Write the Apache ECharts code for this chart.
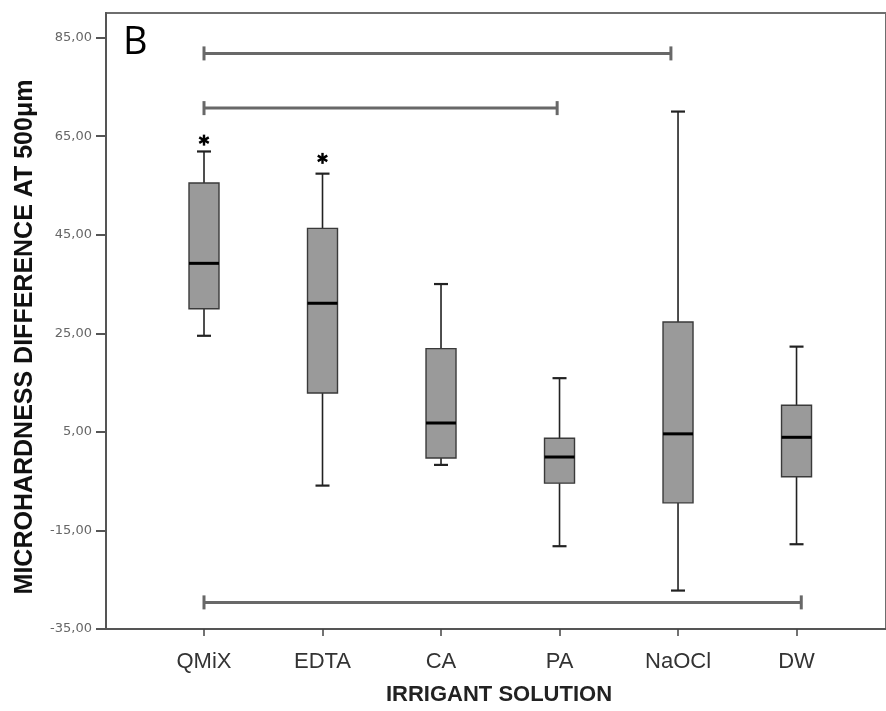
<!DOCTYPE html>
<html>
<head>
    <meta charset="utf-8">
    <title>Microhardness difference at 500um</title>
    <script src="https://cdn.jsdelivr.net/npm/echarts@6/dist/echarts.min.js"></script>
</head>
<body style="margin:0">
<div id="main" style="width:886px;height:711px;"></div>
<script type="text/javascript">
    // groups on the x axis
    var categories = ['QMiX', 'EDTA', 'CA', 'PA', 'NaOCl', 'DW'];
    // [lower whisker, Q1, median, Q3, upper whisker]
    var boxValues = [
        [24.5, 30.0, 39.2, 55.5, 61.9],
        [-5.9, 12.9, 31.1, 46.3, 57.4],
        [-1.7, -0.3, 6.8, 21.9, 35.0],
        [-18.2, -5.4, -0.1, 3.7, 15.9],
        [-27.2, -9.4, 4.6, 27.3, 70.0],
        [-17.8, -4.1, 3.9, 10.4, 22.3]
    ];
    // extreme values (star) and outliers (circle): [category index, value]
    var extremes = [[0, 64.2], [1, 60.5]];
    var outliers = [[3, 22.2]];
    // significance brackets: [from, to, value]
    var brackets = [
        [0, 3.94, 81.8],
        [0, 2.98, 70.7],
        [0, 5.04, -29.6]
    ];
    var yTicks = [-35, -15, 5, 25, 45, 65, 85];

    var myChart = echarts.init(document.getElementById('main'));

    function renderBox(params, api) {
        var x = api.value(0);
        var lo = api.coord([x, api.value(1)]);
        var q1 = api.coord([x, api.value(2)]);
        var med = api.coord([x, api.value(3)]);
        var q3 = api.coord([x, api.value(4)]);
        var hi = api.coord([x, api.value(5)]);
        var cx = lo[0], bw = 30, cw = 14;
        var wStyle = {stroke: '#222', lineWidth: 1.6};
        return {
            type: 'group',
            children: [
                {type: 'line', shape: {x1: cx, y1: hi[1], x2: cx, y2: q3[1]}, style: wStyle},
                {type: 'line', shape: {x1: cx, y1: q1[1], x2: cx, y2: lo[1]}, style: wStyle},
                {type: 'line', shape: {x1: cx - cw / 2, y1: hi[1], x2: cx + cw / 2, y2: hi[1]}, style: {stroke: '#222', lineWidth: 2.2}},
                {type: 'line', shape: {x1: cx - cw / 2, y1: lo[1], x2: cx + cw / 2, y2: lo[1]}, style: {stroke: '#222', lineWidth: 2.2}},
                {type: 'rect', shape: {x: cx - bw / 2, y: q3[1], width: bw, height: q1[1] - q3[1]},
                    style: {fill: '#9a9a9a', stroke: '#3a3a3a', lineWidth: 1.4}},
                {type: 'line', shape: {x1: cx - bw / 2, y1: med[1], x2: cx + bw / 2, y2: med[1]}, style: {stroke: '#000', lineWidth: 3}}
            ]
        };
    }

    function renderBracket(params, api) {
        var a = api.coord([api.value(0), api.value(2)]);
        var b = api.coord([api.value(1), api.value(2)]);
        var st = {stroke: '#686868', lineWidth: 3};
        return {
            type: 'group',
            children: [
                {type: 'line', shape: {x1: a[0], y1: a[1], x2: b[0], y2: b[1]}, style: st},
                {type: 'line', shape: {x1: a[0], y1: a[1] - 7, x2: a[0], y2: a[1] + 7}, style: st},
                {type: 'line', shape: {x1: b[0], y1: b[1] - 7, x2: b[0], y2: b[1] + 7}, style: st}
            ]
        };
    }

    function renderStar(params, api) {
        var p = api.coord([api.value(0), api.value(1)]);
        var r = 5.5, kids = [];
        for (var k = 0; k < 3; k++) {
            var ang = Math.PI / 2 + k * Math.PI / 3;
            kids.push({type: 'line', shape: {
                x1: p[0] - r * Math.cos(ang), y1: p[1] - r * Math.sin(ang),
                x2: p[0] + r * Math.cos(ang), y2: p[1] + r * Math.sin(ang)
            }, style: {stroke: '#000', lineWidth: 2.4}});
        }
        return {type: 'group', children: kids};
    }

    var boxData = boxValues.map(function (b, i) {
        return [i].concat(b);
    });

    var option = {
        animation: false,
        backgroundColor: '#fff',
        grid: {
            left: 106, top: 13, right: 0, bottom: 82,
            show: true, borderColor: '#6e6e6e', borderWidth: 2
        },
        graphic: [
            {type: 'text', left: 123, top: 24,
                style: {text: 'B', font: '38px "Open Sans"', fill: '#000'}},
            {type: 'text', x: 499, y: 695,
                style: {text: 'IRRIGANT SOLUTION', font: 'bold 22px "Liberation Sans", Arial, sans-serif',
                    fill: '#222', textAlign: 'center', textVerticalAlign: 'middle'}},
            {type: 'text', x: 25, y: 337, rotation: Math.PI / 2,
                style: {text: 'MICROHARDNESS DIFFERENCE AT 500μm', font: 'bold 25px "Liberation Sans", Arial, sans-serif',
                    fill: '#111', textAlign: 'center', textVerticalAlign: 'middle'}}
        ],
        xAxis: {
            type: 'value',
            min: -0.827,
            max: 5.755,
            splitLine: {show: false},
            axisLine: {show: true, onZero: false, lineStyle: {color: '#555', width: 2}},
            axisTick: {show: true, customValues: [0, 1, 2, 3, 4, 5], length: 7, lineStyle: {color: '#444', width: 1.5}},
            axisLabel: {
                customValues: [0, 1, 2, 3, 4, 5],
                formatter: function (v) { return categories[Math.round(v)]; },
                fontFamily: '"Liberation Sans", Arial, sans-serif',
                fontSize: 22, color: '#333', margin: 22
            }
        },
        yAxis: {
            type: 'value',
            min: -35,
            max: 90,
            splitLine: {show: false},
            axisLine: {show: true, onZero: false, lineStyle: {color: '#555', width: 2}},
            axisTick: {show: true, customValues: yTicks, length: 10, lineStyle: {color: '#555', width: 2}},
            axisLabel: {
                customValues: yTicks,
                formatter: function (v) { return v.toFixed(2).replace('.', ','); },
                fontFamily: '"DejaVu Sans", sans-serif',
                fontSize: 13, color: '#666', margin: 14
            }
        },
        series: [
            {type: 'custom', renderItem: renderBracket, data: brackets, z: 3},
            {type: 'custom', renderItem: renderBox, data: boxData, z: 4},
            {type: 'custom', renderItem: renderStar, data: extremes, z: 5},
            {
                type: 'scatter', data: outliers, symbol: 'emptyCircle', symbolSize: 9, z: 5,
                itemStyle: {color: '#fff', borderColor: '#111', borderWidth: 1.5}
            }
        ]
    };
    myChart.setOption(option);
</script>
</body>
</html>
